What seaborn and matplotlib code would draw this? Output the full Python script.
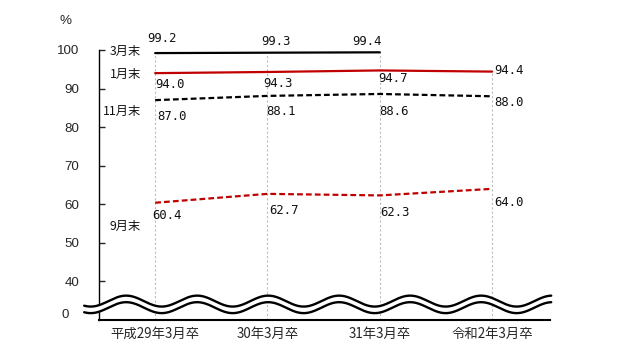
import numpy as np
import pandas as pd
import matplotlib
matplotlib.use('Agg')
import matplotlib.pyplot as plt
import seaborn as sns
from matplotlib import font_manager

categories = ['平成29年3月卒', '30年3月卒', '31年3月卒', '令和2年3月卒']
series_names = ['3月末', '1月末', '11月末', '9月末']
mar_end = [99.2, 99.3, 99.4, np.nan]
jan_end = [94.0, 94.3, 94.7, 94.4]
nov_end = [87.0, 88.1, 88.6, 88.0]
sep_end = [60.4, 62.7, 62.3, 64.0]
y_ticks = [40, 50, 60, 70, 80, 90, 100]

RED = '#c00000'
JP = ['Noto Sans CJK JP', 'DejaVu Sans']
names = {f.name for f in font_manager.fontManager.ttflist}
NARROW = 'Liberation Sans Narrow' if 'Liberation Sans Narrow' in names else 'Liberation Sans'
MONO = 'DejaVu Sans Mono'

sns.set_style('white')
plt.rcParams['font.family'] = JP

x = np.arange(len(categories))
fig = plt.figure(figsize=(6.31, 3.53), dpi=100)
ax = fig.add_axes([99 / 631, 1 - 320 / 353, 451 / 631, 270 / 353])

# drop lines
tops = np.nanmax(np.array([mar_end, jan_end, nov_end, sep_end]), axis=0)
ax.vlines(x, 30, tops, colors='#bcbcbc', linestyles=(0, (2, 2)), linewidth=0.8, zorder=1)

styles = [
    (mar_end, 'black', '-'),
    (jan_end, RED, '-'),
    (nov_end, 'black', (0, (2.6, 1.4))),
    (sep_end, RED, (0, (2.6, 1.4))),
]
for vals, c, ls in styles:
    sns.lineplot(x=x, y=vals, ax=ax, color=c, linewidth=1.6, linestyle=ls, zorder=3)

# value labels (pixel offsets from the point)
offsets = {
    0: [(7, 15), (9, 11), (-13, 11), None],
    1: [(15, -11), (11, -12), (13, -8), (17, 1)],
    2: [(17, -16), (14, -16), (14, -18), (17, -6)],
    3: [(12, -13), (17, -17), (15, -17), (17, -14)],
}
for si, (vals, c, ls) in enumerate(styles):
    for i, v in enumerate(vals):
        if offsets[si][i] is None or np.isnan(v):
            continue
        ax.annotate(f'{v:.1f}', (x[i], v), xytext=offsets[si][i], textcoords='offset pixels',
                    ha='center', va='center', fontsize=8.8, family=MONO, color='#111111', zorder=5)

# series names at left
name_y = [99.6, 93.6, 84.2, 54.3]
for n, yy in zip(series_names, name_y):
    ax.text(-0.125, yy, n, ha='right', va='center', fontsize=8.8, color='#111111', zorder=5)

ax.set_xlim(-0.5, 3.515)
ax.set_ylim(30, 100)
ax.set_xticks(x)
ax.set_xticklabels(categories, fontsize=9.6)
ax.set_yticks(y_ticks)
ax.set_yticklabels([str(t) for t in y_ticks], family=[NARROW, 'DejaVu Sans'], fontsize=9.6)
ax.tick_params(axis='y', direction='in', length=4, width=1, pad=14, left=True)
ax.tick_params(axis='x', length=0, pad=5)
ax.set_xlabel('')
ax.set_ylabel('')
sns.despine(ax=ax)
ax.spines['left'].set_linewidth(1)
ax.spines['bottom'].set_linewidth(1.5)
ax.spines['left'].set_color('black')
ax.spines['bottom'].set_color('black')

# "0" label and % unit
ax.text(-0.8, 31.4, '0', ha='center', va='center', fontsize=9.6,
        family=[NARROW, 'DejaVu Sans'], transform=ax.transData, clip_on=False)
fig.text(66 / 631, 1 - 21 / 353, '%', ha='center', va='center', fontsize=9.6,
         family=[NARROW, 'DejaVu Sans'])

# axis break wave
wx = np.linspace(-0.632, 3.526, 600)
phase = 2 * np.pi * (wx + 0.258) / 0.632
upper = 34.9 + 1.42 * np.cos(phase)
lower = 33.2 + 1.42 * np.cos(phase)
ax.fill_between(wx, lower, upper, color='white', zorder=6, clip_on=False, linewidth=0)
ax.plot(wx, upper, color='black', linewidth=1.7, zorder=7, clip_on=False)
ax.plot(wx, lower, color='black', linewidth=1.7, zorder=7, clip_on=False)

fig.savefig('out.png', dpi=100)
